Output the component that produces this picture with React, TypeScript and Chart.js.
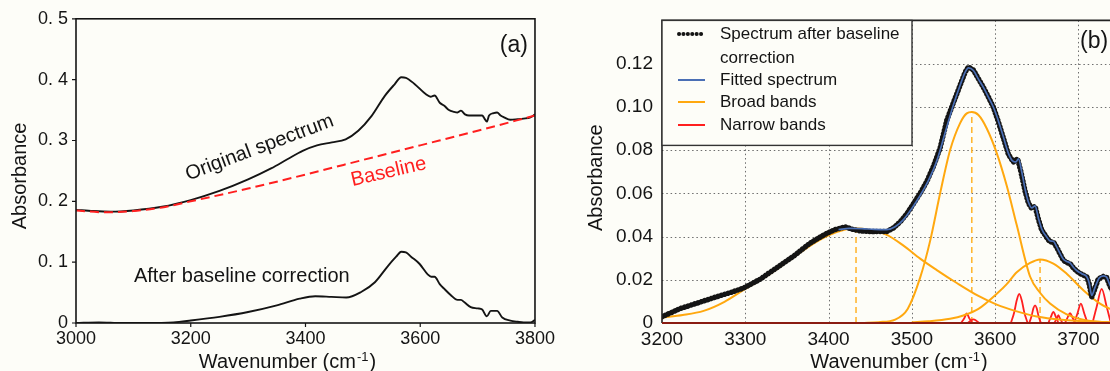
import React, { useEffect, useRef } from 'react';
import { Chart, registerables } from 'chart.js';

Chart.register(...registerables);

const BG = '#fdfdf8';
const FONT = '"Liberation Sans", Arial, Helvetica, sans-serif';

// ---------- Panel (a) data: [wavenumber, absorbance] ----------
const originalSpectrum: [number, number][] = [
  [3000, 0.186], [3030, 0.184], [3060, 0.183], [3100, 0.185], [3150, 0.191], [3200, 0.202],
  [3250, 0.217], [3300, 0.236], [3340, 0.254], [3370, 0.270], [3395, 0.283], [3420, 0.292],
  [3446, 0.297], [3470, 0.302], [3492, 0.316], [3515, 0.340], [3538, 0.373], [3555, 0.392],
  [3567, 0.404], [3575, 0.403], [3590, 0.393], [3610, 0.376], [3618, 0.372], [3625, 0.374],
  [3634, 0.362], [3642, 0.357], [3650, 0.350], [3659, 0.347], [3665, 0.346], [3671, 0.349],
  [3678, 0.343], [3685, 0.341], [3695, 0.341], [3708, 0.341], [3712, 0.336], [3716, 0.331],
  [3720, 0.341], [3728, 0.345], [3734, 0.346], [3740, 0.341], [3746, 0.338], [3757, 0.334],
  [3770, 0.335], [3780, 0.336], [3792, 0.338], [3800, 0.343],
];

const baselineCurve: [number, number][] = [
  [3000, 0.185], [3050, 0.182], [3100, 0.184], [3150, 0.190], [3200, 0.200], [3300, 0.221],
  [3400, 0.244], [3500, 0.268], [3600, 0.292], [3700, 0.316], [3800, 0.341],
];

const correctedSpectrum: [number, number][] = [
  [3000, 0.000], [3040, 0.001], [3080, 0.000], [3120, 0.000], [3170, 0.001], [3200, 0.004],
  [3250, 0.010], [3300, 0.018], [3350, 0.029], [3390, 0.040], [3417, 0.044], [3445, 0.043],
  [3471, 0.042], [3497, 0.051], [3521, 0.067], [3544, 0.094], [3558, 0.109], [3567, 0.117],
  [3575, 0.116], [3584, 0.109], [3599, 0.097], [3613, 0.080], [3619, 0.076], [3625, 0.076],
  [3634, 0.064], [3642, 0.056], [3653, 0.046], [3665, 0.038], [3671, 0.038], [3677, 0.034],
  [3688, 0.026], [3700, 0.024], [3708, 0.022], [3716, 0.011], [3723, 0.020], [3734, 0.020],
  [3743, 0.009], [3757, 0.004], [3770, 0.002], [3780, 0.001], [3792, 0.001], [3800, 0.005],
];

const aXTicks = [3000, 3200, 3400, 3600, 3800];
const aYTicks = [0, 0.1, 0.2, 0.3, 0.4, 0.5];

// ---------- Panel (b) data ----------
const measuredSpectrum: [number, number][] = [
  [3200, 0.0029], [3211, 0.0048], [3222, 0.0067], [3234, 0.0082], [3246, 0.0097], [3258, 0.0112],
  [3270, 0.0127], [3284, 0.0143], [3298, 0.0162], [3308, 0.0182], [3318, 0.0203], [3328, 0.0230],
  [3338, 0.0256], [3348, 0.0283], [3358, 0.0309], [3368, 0.0340], [3378, 0.0370], [3388, 0.0393],
  [3398, 0.0415], [3408, 0.0432], [3420, 0.0445], [3430, 0.0432], [3438, 0.0426], [3454, 0.0423],
  [3470, 0.0423], [3478, 0.0440], [3486, 0.0468], [3494, 0.0505], [3502, 0.0552], [3510, 0.0600],
  [3518, 0.0655], [3526, 0.0725], [3534, 0.0810], [3542, 0.0938], [3550, 0.1020], [3558, 0.1100],
  [3564, 0.1160], [3568, 0.1185], [3574, 0.1170], [3580, 0.1130], [3586, 0.1090], [3592, 0.1045],
  [3598, 0.0998], [3604, 0.0930], [3610, 0.0855], [3616, 0.0780], [3622, 0.0745], [3627, 0.0760],
  [3631, 0.0700], [3636, 0.0610], [3640, 0.0555], [3644, 0.0530], [3648, 0.0540], [3652, 0.0480],
  [3656, 0.0430], [3662, 0.0395], [3666, 0.0375], [3670, 0.0375], [3674, 0.0350], [3678, 0.0320],
  [3682, 0.0290], [3686, 0.0280], [3690, 0.0275], [3694, 0.0255], [3698, 0.0240], [3704, 0.0225],
  [3710, 0.0215], [3713, 0.0180], [3716, 0.0120], [3720, 0.0160], [3724, 0.0205], [3730, 0.0215],
  [3734, 0.0210], [3738, 0.0170], [3744, 0.0130], [3750, 0.0100],
];

const fittedSpectrum: [number, number][] = [
  [3412, 0.0432], [3425, 0.0438], [3440, 0.0437], [3455, 0.0433], [3470, 0.0432], [3480, 0.0445],
  [3490, 0.0478], [3500, 0.0530], [3510, 0.0590], [3520, 0.0660], [3530, 0.0750], [3540, 0.0880],
  [3550, 0.1010], [3558, 0.1100], [3564, 0.1160], [3568, 0.1180], [3574, 0.1168], [3580, 0.1128],
  [3586, 0.1090], [3592, 0.1045], [3598, 0.0998], [3604, 0.0935], [3610, 0.0860], [3616, 0.0785],
  [3621, 0.0750], [3625, 0.0745], [3628, 0.0760], [3632, 0.0700], [3636, 0.0620], [3640, 0.0560],
  [3644, 0.0533], [3648, 0.0542], [3652, 0.0485], [3656, 0.0435], [3662, 0.0398], [3666, 0.0380],
  [3670, 0.0378], [3674, 0.0352], [3678, 0.0322], [3682, 0.0295], [3686, 0.0285], [3690, 0.0278],
  [3694, 0.0258], [3698, 0.0243], [3704, 0.0228], [3710, 0.0215], [3713, 0.0185], [3716, 0.0128],
  [3720, 0.0165], [3725, 0.0208], [3730, 0.0218], [3734, 0.0212], [3738, 0.0175], [3744, 0.0135],
  [3750, 0.0105],
];

const broadBand1: [number, number][] = [
  [3200, 0.0026], [3225, 0.0037], [3250, 0.0056], [3275, 0.0098], [3300, 0.0158], [3325, 0.0215],
  [3350, 0.0282], [3375, 0.0350], [3400, 0.0405], [3420, 0.0432], [3433, 0.0438], [3450, 0.0430],
  [3470, 0.0408], [3490, 0.0358], [3510, 0.0298], [3530, 0.0245], [3554, 0.0185], [3580, 0.0125],
  [3602, 0.0085], [3625, 0.0055], [3650, 0.0030], [3680, 0.0015], [3720, 0.0006], [3750, 0.0003],
];

const broadBand2: [number, number][] = [
  [3440, 0.0000], [3460, 0.0004], [3480, 0.0016], [3495, 0.0065], [3510, 0.0210], [3522, 0.0380],
  [3534, 0.0600], [3546, 0.0800], [3558, 0.0925], [3566, 0.0970], [3572, 0.0976], [3580, 0.0962],
  [3590, 0.0900], [3602, 0.0786], [3614, 0.0635], [3626, 0.0453], [3642, 0.0215], [3654, 0.0140],
  [3666, 0.0090], [3686, 0.0040], [3710, 0.0012], [3750, 0.0002],
];

const broadBand3: [number, number][] = [
  [3500, 0.0003], [3520, 0.0008], [3546, 0.0020], [3562, 0.0035], [3580, 0.0065], [3602, 0.0135],
  [3614, 0.0180], [3626, 0.0235], [3642, 0.0278], [3654, 0.0294], [3670, 0.0275], [3686, 0.0228],
  [3706, 0.0152], [3726, 0.0090], [3738, 0.0065], [3750, 0.0045],
];

const broadBandCentres: [number, number][] = [
  [3433, 0.0438], [3572, 0.0976], [3654, 0.0294],
];

const narrowBand1: [number, number][] = [[3559, 0], [3563, 0.0022], [3566, 0.0044], [3569, 0.0022], [3573, 0]];
const narrowBand2: [number, number][] = [[3567, 0], [3571, 0.0012], [3574, 0.0017], [3577, 0.0012], [3581, 0]];
const narrowBand3: [number, number][] = [[3619, 0], [3623, 0.0050], [3626, 0.0105], [3629, 0.0135], [3632, 0.0105], [3635, 0.0050], [3639, 0]];
const narrowBand4: [number, number][] = [[3641, 0], [3644, 0.0035], [3646, 0.0068], [3648, 0.0082], [3650, 0.0068], [3652, 0.0035], [3655, 0]];
const narrowBand5: [number, number][] = [[3664, 0], [3667, 0.0028], [3670, 0.0051], [3673, 0.0028], [3676, 0]];
const narrowBand6: [number, number][] = [[3671, 0], [3674, 0.0020], [3676, 0.0036], [3678, 0.0020], [3681, 0]];
const narrowBand7: [number, number][] = [[3684, 0], [3687, 0.0025], [3690, 0.0046], [3693, 0.0025], [3696, 0]];
const narrowBand8: [number, number][] = [[3695, 0], [3699, 0.0045], [3703, 0.0090], [3707, 0.0045], [3711, 0]];
const narrowBand9: [number, number][] = [[3717, 0], [3722, 0.0075], [3728, 0.0158], [3734, 0.0075], [3739, 0]];
const narrowBands = [narrowBand1, narrowBand2, narrowBand3, narrowBand4, narrowBand5, narrowBand6, narrowBand7, narrowBand8, narrowBand9];

const bXTicks = [3200, 3300, 3400, 3500, 3600, 3700];
const bYTicks = [0, 0.02, 0.04, 0.06, 0.08, 0.10, 0.12];
const bXGrid = [3300, 3400, 3500, 3600, 3700];
const bYGrid = [0.02, 0.04, 0.06, 0.08, 0.10, 0.12];

const COL_BLACK = '#141414';
const COL_BLUE = '#4a6fb5';
const COL_ORANGE = '#ffa80f';
const COL_ORANGE_DASH = '#ffb733';
const COL_RED = '#ff1f1f';

const toXY = (arr: [number, number][]) => arr.map(([x, y]) => ({ x, y }));

function drawXTitle(ctx: CanvasRenderingContext2D, cx: number, baseY: number) {
  const a = 'Wavenumber (cm';
  const sup = '-1';
  const b = ')';
  ctx.font = `20px ${FONT}`;
  const wa = ctx.measureText(a).width;
  const wb = ctx.measureText(b).width;
  ctx.font = `13px ${FONT}`;
  const ws = ctx.measureText(sup).width + 2;
  let x = cx - (wa + ws + wb) / 2;
  ctx.fillStyle = COL_BLACK;
  ctx.textAlign = 'left';
  ctx.textBaseline = 'alphabetic';
  ctx.font = `20px ${FONT}`;
  ctx.fillText(a, x, baseY);
  x += wa;
  ctx.font = `13px ${FONT}`;
  ctx.fillText(sup, x + 1, baseY - 7);
  x += ws;
  ctx.font = `20px ${FONT}`;
  ctx.fillText(b, x, baseY);
}

function drawYTitle(ctx: CanvasRenderingContext2D, cx: number, cy: number) {
  ctx.save();
  ctx.translate(cx, cy);
  ctx.rotate(-Math.PI / 2);
  ctx.font = `20px ${FONT}`;
  ctx.fillStyle = COL_BLACK;
  ctx.textAlign = 'center';
  ctx.textBaseline = 'middle';
  ctx.fillText('Absorbance', 0, 0);
  ctx.restore();
}

function rotatedText(ctx: CanvasRenderingContext2D, text: string, x: number, y: number, deg: number, color: string, size: number) {
  ctx.save();
  ctx.translate(x, y);
  ctx.rotate((deg * Math.PI) / 180);
  ctx.font = `${size}px ${FONT}`;
  ctx.fillStyle = color;
  ctx.textAlign = 'center';
  ctx.textBaseline = 'middle';
  ctx.fillText(text, 0, 0);
  ctx.restore();
}

const panelAPlugin = {
  id: 'panelA',
  afterDraw(chart: any) {
    const { ctx, chartArea: ca, scales } = chart;
    const xs = scales.x;
    const ys = scales.y;
    ctx.save();
    ctx.strokeStyle = COL_BLACK;
    ctx.lineWidth = 1.6;
    ctx.strokeRect(ca.left, ca.top, ca.right - ca.left, ca.bottom - ca.top);
    ctx.lineWidth = 1.2;
    ctx.beginPath();
    aXTicks.forEach((v) => {
      const px = xs.getPixelForValue(v);
      ctx.moveTo(px, ca.bottom);
      ctx.lineTo(px, ca.bottom + 4);
    });
    aYTicks.forEach((v) => {
      const py = ys.getPixelForValue(v);
      ctx.moveTo(ca.left - 4, py);
      ctx.lineTo(ca.left, py);
    });
    ctx.stroke();
    rotatedText(ctx, 'Original spectrum', xs.getPixelForValue(3320), ys.getPixelForValue(0.288), -20.5, COL_BLACK, 20);
    rotatedText(ctx, 'Baseline', xs.getPixelForValue(3545), ys.getPixelForValue(0.248), -13, COL_RED, 20);
    rotatedText(ctx, 'After baseline correction', xs.getPixelForValue(3289), ys.getPixelForValue(0.0765), 0, COL_BLACK, 20);
    ctx.font = `23px ${FONT}`;
    ctx.fillStyle = COL_BLACK;
    ctx.textAlign = 'right';
    ctx.textBaseline = 'middle';
    ctx.fillText('(a)', ca.right - 7, ca.top + 27);
    drawYTitle(ctx, 20, (ca.top + ca.bottom) / 2 + 5);
    drawXTitle(ctx, (ca.left + ca.right) / 2 - 18, 367.5);
    ctx.restore();
  },
};

const panelBPlugin = {
  id: 'panelB',
  beforeDatasetsDraw(chart: any) {
    const { ctx, chartArea: ca, scales } = chart;
    ctx.save();
    ctx.strokeStyle = '#6e6e6e';
    ctx.lineWidth = 1;
    ctx.setLineDash([1.5, 2.8]);
    ctx.beginPath();
    bXGrid.forEach((v) => {
      const px = Math.round(scales.x.getPixelForValue(v)) + 0.5;
      ctx.moveTo(px, ca.top);
      ctx.lineTo(px, ca.bottom);
    });
    bYGrid.forEach((v) => {
      const py = Math.round(scales.y.getPixelForValue(v)) + 0.5;
      ctx.moveTo(ca.left, py);
      ctx.lineTo(ca.right, py);
    });
    ctx.stroke();
    ctx.restore();
  },
  afterDraw(chart: any) {
    const { ctx, chartArea: ca } = chart;
    ctx.save();
    ctx.strokeStyle = '#222';
    ctx.lineWidth = 1.6;
    ctx.beginPath();
    ctx.moveTo(ca.left, ca.bottom);
    ctx.lineTo(ca.left, ca.top);
    ctx.lineTo(ca.right, ca.top);
    ctx.lineTo(ca.right, ca.bottom);
    ctx.stroke();
    ctx.strokeStyle = '#8a1c12';
    ctx.lineWidth = 2.2;
    ctx.beginPath();
    ctx.moveTo(ca.left, ca.bottom);
    ctx.lineTo(ca.right, ca.bottom);
    ctx.stroke();

    const lx = ca.left;
    const ly = ca.top;
    const lw = 250;
    const lh = 125;
    ctx.fillStyle = BG;
    ctx.fillRect(lx, ly, lw, lh);
    ctx.strokeStyle = '#333';
    ctx.lineWidth = 1.4;
    ctx.strokeRect(lx, ly, lw, lh);

    const sx1 = lx + 16;
    const sx2 = lx + 43;
    const tx = lx + 58;
    ctx.save();
    ctx.strokeStyle = COL_BLACK;
    ctx.lineWidth = 4;
    ctx.lineCap = 'round';
    ctx.setLineDash([0.1, 4.3]);
    ctx.beginPath();
    ctx.moveTo(sx1 + 1, 34);
    ctx.lineTo(sx2, 34);
    ctx.stroke();
    ctx.restore();
    const samples: [string, number][] = [[COL_BLUE, 80], [COL_ORANGE, 102], [COL_RED, 125]];
    samples.forEach(([c, y]) => {
      ctx.strokeStyle = c;
      ctx.lineWidth = 2;
      ctx.beginPath();
      ctx.moveTo(sx1, y);
      ctx.lineTo(sx2, y);
      ctx.stroke();
    });
    ctx.font = `17px ${FONT}`;
    ctx.fillStyle = COL_BLACK;
    ctx.textAlign = 'left';
    ctx.textBaseline = 'middle';
    ctx.fillText('Spectrum after baseline', tx, 34);
    ctx.fillText('correction', tx, 58);
    ctx.fillText('Fitted spectrum', tx, 80);
    ctx.fillText('Broad bands', tx, 102);
    ctx.fillText('Narrow bands', tx, 125);

    ctx.font = `23px ${FONT}`;
    ctx.textAlign = 'left';
    ctx.fillText('(b)', 520, 42);

    drawYTitle(ctx, 36, (ca.top + ca.bottom) / 2 + 6);
    drawXTitle(ctx, 339, 367.5);
    ctx.restore();
  },
};

function tickFont(size: number) {
  return { family: FONT, size };
}

function makePanelA(canvas: HTMLCanvasElement) {
  return new Chart(canvas, {
    type: 'line',
    data: {
      datasets: [
        {
          label: 'Baseline',
          data: toXY(baselineCurve),
          borderColor: COL_RED,
          borderWidth: 2,
          borderDash: [9, 5],
          pointRadius: 0,
          cubicInterpolationMode: 'monotone',
          order: 0,
        },
        {
          label: 'Original spectrum',
          data: toXY(originalSpectrum),
          borderColor: COL_BLACK,
          borderWidth: 1.9,
          pointRadius: 0,
          cubicInterpolationMode: 'monotone',
          order: 1,
        },
        {
          label: 'After baseline correction',
          data: toXY(correctedSpectrum),
          borderColor: COL_BLACK,
          borderWidth: 1.9,
          pointRadius: 0,
          cubicInterpolationMode: 'monotone',
          order: 2,
        },
      ],
    },
    options: {
      animation: false,
      responsive: false,
      events: [],
      layout: { padding: { top: 15, right: 22, left: 0, bottom: 0 } },
      plugins: { legend: { display: false }, tooltip: { enabled: false } },
      scales: {
        x: {
          type: 'linear',
          min: 3000,
          max: 3800,
          afterBuildTicks: (s: any) => { s.ticks = aXTicks.map((v) => ({ value: v })); },
          afterFit: (s: any) => { s.height = 48; },
          grid: { display: false, drawTicks: false, tickLength: 0 },
          border: { display: false },
          ticks: { color: COL_BLACK, font: tickFont(18), padding: 5, maxRotation: 0, callback: (v: any) => String(v) },
        },
        y: {
          type: 'linear',
          min: 0,
          max: 0.5,
          afterBuildTicks: (s: any) => { s.ticks = aYTicks.map((v) => ({ value: v })); },
          afterFit: (s: any) => { s.width = 76; },
          grid: { display: false, drawTicks: false, tickLength: 0 },
          border: { display: false },
          ticks: {
            color: COL_BLACK,
            font: tickFont(18),
            padding: 8,
            callback: (v: any) => (Math.abs(v) < 1e-9 ? '0' : '0. ' + Math.round(v * 10)),
          },
        },
      },
    },
    plugins: [panelAPlugin],
  } as any);
}

function makePanelB(canvas: HTMLCanvasElement) {
  const narrowSets = narrowBands.map((band, i) => ({
    label: i === 0 ? 'Narrow bands' : '',
    data: toXY(band),
    borderColor: COL_RED,
    borderWidth: 1.8,
    pointRadius: 0,
    cubicInterpolationMode: 'monotone',
    order: 4,
  }));
  const centreSets = broadBandCentres.map(([x, y]) => ({
    label: '',
    data: [{ x, y: 0 }, { x, y }],
    borderColor: COL_ORANGE_DASH,
    borderWidth: 1.6,
    borderDash: [6, 4],
    pointRadius: 0,
    tension: 0,
    order: 5,
  }));
  const broadSets = [broadBand1, broadBand2, broadBand3].map((band, i) => ({
    label: i === 0 ? 'Broad bands' : '',
    data: toXY(band),
    borderColor: COL_ORANGE,
    borderWidth: 2,
    pointRadius: 0,
    cubicInterpolationMode: 'monotone',
    order: 3,
  }));
  return new Chart(canvas, {
    type: 'line',
    data: {
      datasets: [
        {
          label: 'Fitted spectrum',
          data: toXY(fittedSpectrum),
          borderColor: COL_BLUE,
          borderWidth: 1.7,
          pointRadius: 0,
          cubicInterpolationMode: 'monotone',
          order: 0,
        },
        {
          label: 'Spectrum after baseline correction',
          data: toXY(measuredSpectrum),
          borderColor: COL_BLACK,
          borderWidth: 5.5,
          borderDash: [0.1, 3.4],
          borderCapStyle: 'round',
          pointRadius: 0,
          tension: 0,
          order: 1,
        },
        ...broadSets,
        ...narrowSets,
        ...centreSets,
      ],
    },
    options: {
      animation: false,
      responsive: false,
      events: [],
      layout: { padding: { top: 15, right: 20, left: 0, bottom: 0 } },
      plugins: { legend: { display: false }, tooltip: { enabled: false } },
      scales: {
        x: {
          type: 'linear',
          min: 3200,
          max: 3750,
          afterBuildTicks: (s: any) => { s.ticks = bXTicks.map((v) => ({ value: v })); },
          afterFit: (s: any) => { s.height = 48; },
          grid: { display: false, drawTicks: false, tickLength: 0 },
          border: { display: false },
          ticks: { color: COL_BLACK, font: tickFont(19), padding: 5, maxRotation: 0, callback: (v: any) => String(v) },
        },
        y: {
          type: 'linear',
          min: 0,
          max: 0.14,
          afterBuildTicks: (s: any) => { s.ticks = bYTicks.map((v) => ({ value: v })); },
          afterFit: (s: any) => { s.width = 102; },
          grid: { display: false, drawTicks: false, tickLength: 0 },
          border: { display: false },
          ticks: {
            color: COL_BLACK,
            font: tickFont(19),
            padding: 9,
            callback: (v: any) => (Math.abs(v) < 1e-9 ? '0' : Number(v).toFixed(2)),
          },
        },
      },
    },
    plugins: [panelBPlugin],
  } as any);
}

export default function App() {
  const refA = useRef<HTMLCanvasElement | null>(null);
  const refB = useRef<HTMLCanvasElement | null>(null);

  useEffect(() => {
    document.body.style.margin = '0';
    document.body.style.background = BG;
    const a = refA.current ? makePanelA(refA.current) : null;
    const b = refB.current ? makePanelB(refB.current) : null;
    return () => {
      a?.destroy();
      b?.destroy();
    };
  }, []);

  return (
    <div
      style={{
        position: 'fixed',
        left: 0,
        top: 0,
        width: 1110,
        height: 371,
        overflow: 'hidden',
        background: BG,
      }}
    >
      <canvas ref={refA} width={560} height={371} style={{ position: 'absolute', left: 0, top: 0, width: 560, height: 371 }} />
      <canvas ref={refB} width={580} height={371} style={{ position: 'absolute', left: 560, top: 0, width: 580, height: 371 }} />
    </div>
  );
}
